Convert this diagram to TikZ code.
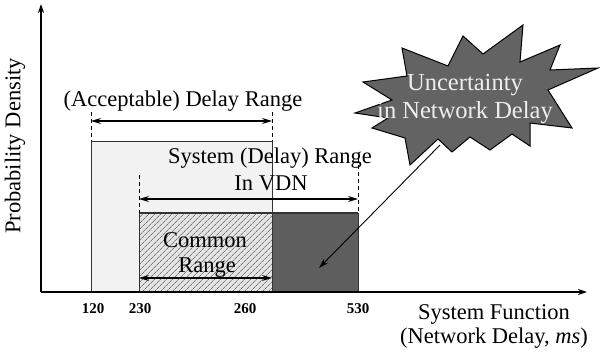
\documentclass[tikz,border=0pt]{standalone}
\usepackage{fontspec}
\setmainfont{Liberation Serif}
\usetikzlibrary{arrows.meta,patterns.meta}
\definecolor{acceptfill}{HTML}{F2F2F2}
\definecolor{commonfill}{HTML}{E4E4E4}
\definecolor{hatchline}{HTML}{777777}
\definecolor{darkfill}{HTML}{5E5E5E}
\definecolor{burstfill}{HTML}{636363}
\definecolor{bursttext}{HTML}{EEEEEE}
\definecolor{edge}{HTML}{333333}
\begin{document}
\begin{tikzpicture}[x=1pt,y=-1pt,
  axisline/.style={line width=1.6pt,-{Stealth[length=9pt,width=6pt]}},
  boxedge/.style={draw=edge,line width=0.8pt},
  guide/.style={dashed,dash pattern=on 4pt off 3pt,line width=0.8pt},
  span/.style={line width=1.1pt,{Stealth[length=10pt,width=6pt]}-{Stealth[length=10pt,width=6pt]}},
  pointer/.style={line width=0.9pt,-{Stealth[length=10pt,width=6pt]}},
  lbl/.style={font=\fontsize{22.5}{27}\selectfont,anchor=base,inner sep=0pt},
  tick/.style={font=\fontsize{15}{18}\selectfont\bfseries,anchor=base,inner sep=0pt},
  bursttxt/.style={font=\fontsize{24.5}{28}\selectfont,text=bursttext,anchor=base,inner sep=0pt}]
\useasboundingbox (0,0) rectangle (600,356);

% axes
\coordinate (o) at (41,292);
\coordinate (ytop) at (41,4);
\coordinate (xend) at (587,292);

% (acceptable) delay range: 120 .. 260
\filldraw[fill=acceptfill,boxedge] (91,292) rectangle (272,141);
% system range in VDN: 230 .. 530
\fill[commonfill] (139,292) rectangle (272,213);
\fill[pattern={Lines[angle=45,distance=4pt,line width=0.75pt]},pattern color=hatchline] (139,292) rectangle (272,213);
\draw[boxedge] (139,292) -- (139,213);
\filldraw[fill=darkfill,boxedge] (272,292) rectangle (358,213);
\draw[line width=1.8pt,edge] (139,213) -- (358,213);
\draw[boxedge] (272,141) -- (272,292);

\draw[axisline] (o) -- (ytop);
\draw[axisline] (o) -- (xend);

% range markers
\coordinate (a1) at (91,112);  \coordinate (a1b) at (91,141);
\coordinate (a2) at (272,112); \coordinate (a2b) at (272,141);
\draw[guide] (a1) -- (a1b);
\draw[guide] (a2) -- (a2b);
\coordinate (aL) at (91,121); \coordinate (aR) at (272,121);
\draw[span] (aL) -- (aR);

\coordinate (s1) at (139,175); \coordinate (s1b) at (139,213);
\coordinate (s2) at (358,158); \coordinate (s2b) at (358,213);
\draw[guide] (s1) -- (s1b);
\draw[guide] (s2) -- (s2b);
\coordinate (sL) at (139,199); \coordinate (sR) at (358,199);
\draw[span] (sL) -- (sR);

\coordinate (cL) at (139,278); \coordinate (cR) at (272,278);
\draw[span] (cL) -- (cR);

% labels
\node[lbl] (accept) at (183,106) {(Acceptable) Delay Range};
\node[lbl] (sys1) at (270,163) {System (Delay) Range};
\node[lbl] (sys2) at (271,190) {In VDN};
\node[lbl] (com1) at (205,247) {Common};
\node[lbl] (com2) at (207,272) {Range};
\node[lbl] (xl1) at (494,319) {System Function};
\node[lbl] (xl2) at (494,343) {(Network Delay, \textit{ms})};
\node[lbl,anchor=center,rotate=90] (yl) at (15,146) {Probability Density};

\node[tick] (t120) at (93,313) {120};
\node[tick] (t230) at (140,313) {230};
\node[tick] (t260) at (245,313) {260};
\node[tick] (t530) at (358,313) {530};

% pointer from the burst into the dark block
\coordinate (pstart) at (440,145);
\coordinate (pend) at (319,268);
\draw[pointer] (pstart) -- (pend);

% burst
\filldraw[fill=burstfill,draw=black,line width=1pt,line join=miter]
  (355,113) -- (392,100) -- (363,82) -- (407,76) -- (402,48) -- (448,66)
  -- (463,36) -- (483,54) -- (523,25) -- (520,62) -- (560,45) -- (550,70)
  -- (598,68) -- (548,90) -- (572,128) -- (530,123) -- (530,146) -- (512,134)
  -- (490,150) -- (470,137) -- (452,152) -- (438,139) -- (410,165) -- (405,138)
  -- (372,128) -- (388,118) -- cycle;
\node[bursttxt] (u1) at (465,90) {Uncertainty};
\node[bursttxt] (u2) at (465,118) {in Network Delay};
\end{tikzpicture}
\end{document}
